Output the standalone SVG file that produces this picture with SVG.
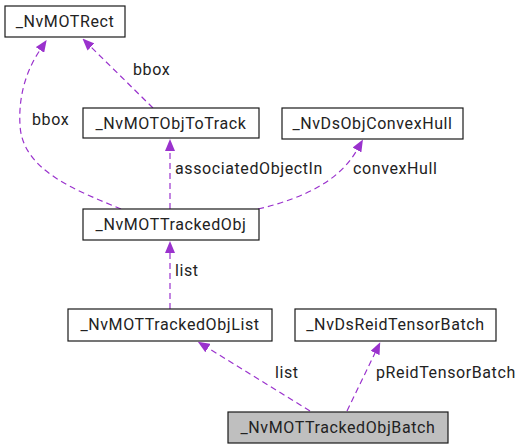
<svg xmlns="http://www.w3.org/2000/svg" width="521" height="448" viewBox="0 0 521 448">
<style>
.box{fill:#ffffff;stroke:#1a1a1a;stroke-width:1.2}
.cur{fill:#bfbfbf}
.t{font-family:Roboto,"Liberation Sans",sans-serif;font-size:16px;letter-spacing:0.6px;fill:#222222;text-anchor:middle}
.l{font-family:Roboto,"Liberation Sans",sans-serif;font-size:16px;letter-spacing:0.6px;fill:#222222}
.e{fill:none;stroke:#9a32cd;stroke-width:1.2;stroke-dasharray:6,4;marker-end:url(#ah)}
</style>
<defs>
<marker id="ah" viewBox="0 -5 12 10" markerWidth="12" markerHeight="10" refX="0" refY="0" orient="auto" markerUnits="userSpaceOnUse">
<path d="M0,-5 L12,0 L0,5 z" fill="#9a32cd"/>
</marker>
</defs>
<rect width="521" height="448" fill="#ffffff"/>
<g id="edges">
<path class="e" d="M310,411 L208,348"/>
<path class="e" d="M347,411 L375,353"/>
<path class="e" d="M170,309 L170,253"/>
<path class="e" d="M170,209 L170,151"/>
<path class="e" d="M258,209 C305,198 340,180 357,150"/>
<path class="e" d="M153,108 L91,47"/>
<path class="e" d="M121,209 C75,190 22,170 20,125 C18,90 30,65 40,50"/>
<text class="l" x="275" y="378">list</text>
<text class="l" x="376" y="378">pReidTensorBatch</text>
<text class="l" x="175" y="276">list</text>
<text class="l" x="175" y="174">associatedObjectIn</text>
<text class="l" x="353" y="174">convexHull</text>
<text class="l" x="32" y="125">bbox</text>
<text class="l" x="133" y="75">bbox</text>
</g>
<g id="NvMOTRect"><rect class="box" x="5" y="6" width="120" height="31"/><text class="t" x="65" y="27">_NvMOTRect</text></g>
<g id="NvMOTObjToTrack"><rect class="box" x="83" y="108" width="176" height="30"/><text class="t" x="171" y="129">_NvMOTObjToTrack</text></g>
<g id="NvDsObjConvexHull"><rect class="box" x="282" y="108" width="181" height="31"/><text class="t" x="372.5" y="129">_NvDsObjConvexHull</text></g>
<g id="NvMOTTrackedObj"><rect class="box" x="83" y="209" width="176" height="31"/><text class="t" x="171" y="230">_NvMOTTrackedObj</text></g>
<g id="NvMOTTrackedObjList"><rect class="box" x="68" y="309" width="204" height="32"/><text class="t" x="170" y="330">_NvMOTTrackedObjList</text></g>
<g id="NvDsReidTensorBatch"><rect class="box" x="295" y="309" width="201" height="32"/><text class="t" x="395.5" y="330">_NvDsReidTensorBatch</text></g>
<g id="NvMOTTrackedObjBatch"><rect class="box cur" x="228" y="412" width="220" height="31"/><text class="t" x="338" y="433">_NvMOTTrackedObjBatch</text></g>
</svg>
